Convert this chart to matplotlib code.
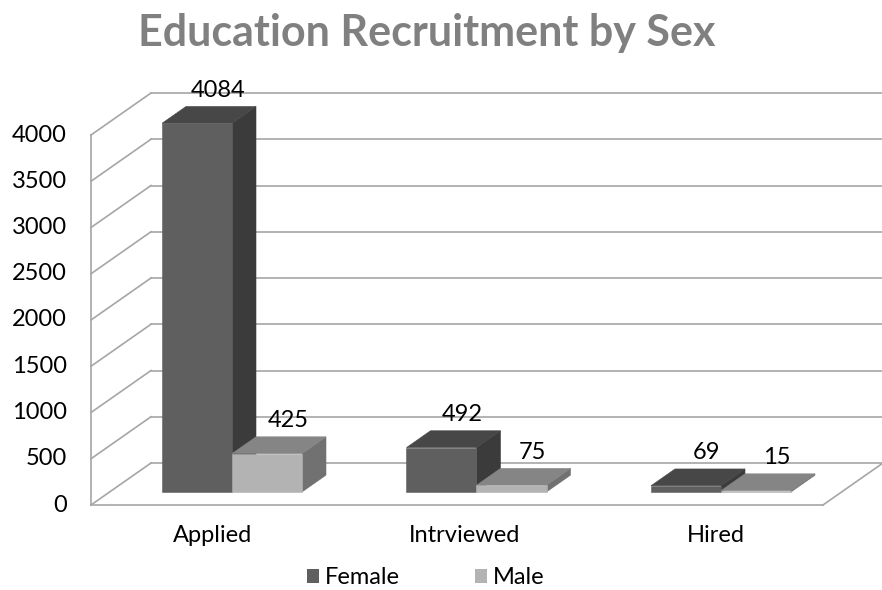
import numpy as np
import matplotlib
matplotlib.use("Agg")
import matplotlib.pyplot as plt
from matplotlib.patches import Polygon, Patch

categories = ["Applied", "Intrviewed", "Hired"]
female = [4084, 492, 69]
male = [425, 75, 15]
y_ticks = [0, 500, 1000, 1500, 2000, 2500, 3000, 3500, 4000]

W, H = 882, 590
FONT = "Lato"
FS = 17

# pixel layout of the Excel-style 3D plot area
px_per_cat = 244.5      # horizontal pixels per category
cat0_px = 232           # pixel x of first group centre (front face)
px_per_val = 0.0925     # pixels per unit on the walls
zero_px = 505           # pixel y of value 0 on the front edge

x_lo = (0 - cat0_px) / px_per_cat
x_hi = (W - cat0_px) / px_per_cat
y_lo = (zero_px - H) / px_per_val
y_hi = zero_px / px_per_val

depth_dx = 60 / px_per_cat   # full wall depth in data units
depth_dy = 42 / px_per_val
wall_x = (91 - cat0_px) / px_per_cat
floor_end = (823 - cat0_px) / px_per_cat
bar_w = 70 / px_per_cat
bar_d0, bar_d1 = 0.31, 0.71  # bar depth band (fraction of the wall depth)
bar_scale = 0.976
grid_col = "#a6a6a6"
label_step = 251.5 / px_per_cat  # category labels spread a bit wider (perspective)

fig = plt.figure(figsize=(W / 100, H / 100), dpi=100)
ax = fig.add_axes([0, 0, 1, 1])
ax.set_xlim(x_lo, x_hi)
ax.set_ylim(y_lo, y_hi)
ax.axis("off")


def dep(x, y, d):
    return (x + d * depth_dx, y + d * depth_dy)


# walls and gridlines
for v in y_ticks:
    ax.plot(*zip(dep(wall_x, v, 0), dep(wall_x, v, 1)), color=grid_col, lw=1.2, zorder=1)
    ax.plot([dep(wall_x, v, 1)[0], x_hi + 0.1], [v + depth_dy] * 2, color=grid_col, lw=1.2, zorder=1)
    ax.text(wall_x - 24 / px_per_cat, v, str(v), ha="right", va="center",
            fontsize=FS, family=FONT, color="#000000")
ax.plot([wall_x, wall_x], [0, y_ticks[-1]], color=grid_col, lw=1.2, zorder=1)
ax.plot([wall_x, floor_end], [0, 0], color=grid_col, lw=1.2, zorder=1)
ax.plot(*zip(dep(floor_end, 0, 0), dep(floor_end, 0, 1)), color=grid_col, lw=1.2, zorder=1)


def bar3d(x0, val, front, top, side, z):
    h = val * bar_scale
    x1 = x0 + bar_w
    f = [dep(x0, 0, bar_d0), dep(x1, 0, bar_d0), dep(x1, h, bar_d0), dep(x0, h, bar_d0)]
    t = [dep(x0, h, bar_d0), dep(x1, h, bar_d0), dep(x1, h, bar_d1), dep(x0, h, bar_d1)]
    s = [dep(x1, 0, bar_d0), dep(x1, 0, bar_d1), dep(x1, h, bar_d1), dep(x1, h, bar_d0)]
    for pts, c in [(s, side), (t, top), (f, front)]:
        ax.add_patch(Polygon(pts, closed=True, facecolor=c, edgecolor=c, lw=0.4, zorder=z))
    # value label above the top face
    lx, _ = dep(x0 + bar_w / 2 + 9 / px_per_cat, h, (bar_d0 + bar_d1) / 2)
    _, ly = dep(x0, h, bar_d1)
    ax.text(lx, ly + 16 / px_per_val, str(val), ha="center", va="center",
            fontsize=FS, family=FONT, color="#000000", zorder=10)


for i, cat in enumerate(categories):
    bar3d(i - bar_w - depth_dx * bar_d0, female[i], "#5f5f5f", "#474747", "#3b3b3b", 3 + 2 * i)
    bar3d(i - depth_dx * bar_d0, male[i], "#b3b3b3", "#858585", "#717171", 4 + 2 * i)
    ax.text(i * label_step - 19 / px_per_cat, (zero_px - 535) / px_per_val, cat,
            ha="center", va="center", fontsize=FS, family=FONT, color="#000000")

fig.text(427 / W, 1 - 33 / H, "Education Recruitment by Sex", ha="center", va="center",
         fontsize=31, fontweight="bold", family=FONT, color="#808080")

handles = [Patch(facecolor="#5f5f5f", label="Female"), Patch(facecolor="#b3b3b3", label="Male")]
fig.legend(handles=handles, loc="center", bbox_to_anchor=(426 / W, 1 - 578 / H), ncol=2,
           frameon=False, handlelength=0.5, handleheight=0.5, handletextpad=0.25,
           columnspacing=3.2, prop={"family": FONT, "size": FS})

fig.savefig("out.png", dpi=100)
